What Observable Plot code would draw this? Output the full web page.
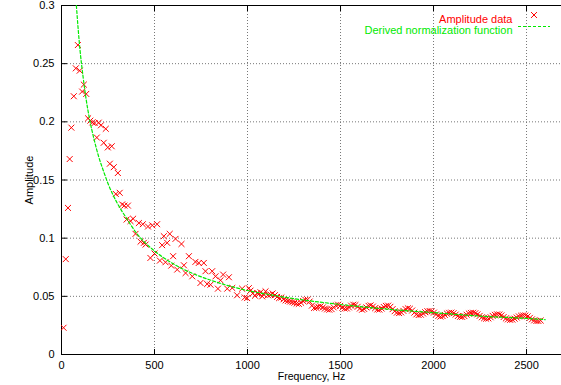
<!DOCTYPE html>
<html>
<head>
<meta charset="utf-8">
<script src="https://cdn.jsdelivr.net/npm/d3@7"></script>
<script src="https://cdn.jsdelivr.net/npm/@observablehq/plot@0.6"></script>
<style>
  html, body { margin: 0; padding: 0; background: white; }
  #chart { position: relative; width: 561px; height: 385px; overflow: hidden; }
</style>
</head>
<body>
<div id="chart"></div>
<script>
// Measured amplitude data (frequency in Hz, amplitude)
const freq = [
  11, 23, 35, 44, 53, 66, 77, 88, 98, 111, 120, 133, 143, 155, 166, 178, 190, 200, 212, 227,
  238, 249, 260, 270, 281, 292, 303, 313, 326, 338, 350, 357, 371, 385, 398, 416, 425, 437, 443, 452,
  465, 478, 488, 500, 514, 529, 541, 550, 559, 568, 582, 590, 600, 613, 622, 645, 658, 667, 685, 703,
  720, 738, 747, 765, 774, 783, 801, 810, 828, 841, 855, 869, 891, 900, 918, 944, 971, 985, 998, 1007,
  1016, 1028, 1040, 1052, 1061, 1070, 1079, 1088, 1097, 1110, 1124,
  1135, 1147, 1159, 1170, 1182, 1194, 1205, 1217, 1229, 1241, 1252, 1264, 1276, 1288, 1299, 1311, 1323, 1334, 1346, 1358,
  1370, 1381, 1393, 1405, 1416, 1428, 1440, 1452, 1463, 1475, 1487, 1498, 1510, 1522, 1534, 1545, 1557, 1569, 1580, 1592,
  1604, 1616, 1627, 1639, 1651, 1662, 1674, 1686, 1698, 1709, 1721, 1733, 1744, 1756, 1768, 1780, 1791, 1803, 1815, 1826,
  1838, 1850, 1862, 1873, 1885, 1897, 1908, 1920, 1932, 1944, 1955, 1967, 1979, 1990, 2002, 2014, 2026, 2037, 2049, 2061,
  2072, 2084, 2096, 2108, 2119, 2131, 2143, 2154, 2166, 2178, 2190, 2201, 2213, 2225, 2236, 2248, 2260, 2272, 2283, 2295,
  2307, 2318, 2330, 2342, 2354, 2365, 2377, 2389, 2400, 2412, 2424, 2436, 2447, 2459, 2471, 2482, 2494, 2506, 2518, 2529,
  2541, 2553, 2564, 2576
];
const amp = [
  0.023, 0.082, 0.126, 0.168, 0.195, 0.222, 0.246, 0.266, 0.244, 0.226, 0.232, 0.224, 0.203, 0.201, 0.1995, 0.199, 0.1865, 0.1993, 0.197, 0.182,
  0.194, 0.178, 0.164, 0.179, 0.161, 0.138, 0.156, 0.139, 0.129, 0.128, 0.116, 0.128, 0.1147, 0.1167, 0.1037, 0.113, 0.097, 0.112, 0.096, 0.0945,
  0.110, 0.083, 0.111, 0.0868, 0.112, 0.0807, 0.094, 0.1017, 0.0793, 0.096, 0.1037, 0.0764, 0.0845, 0.0994, 0.073, 0.095, 0.0767, 0.070, 0.0845, 0.0672,
  0.0796, 0.0787, 0.0615, 0.0787, 0.0716, 0.0606, 0.060, 0.0716, 0.0672, 0.0566, 0.0638, 0.0687, 0.0566, 0.0664, 0.0572, 0.0509, 0.0566, 0.049, 0.0485, 0.057,
  0.0549, 0.0525, 0.0505, 0.0528, 0.052, 0.0535, 0.050, 0.0515, 0.0543, 0.051, 0.0514,
  0.0525, 0.051, 0.0495, 0.0485, 0.049, 0.0475, 0.0465, 0.046, 0.0455, 0.045, 0.0445, 0.0438, 0.0435, 0.0445, 0.046, 0.047, 0.0472, 0.0455, 0.042, 0.040,
  0.0402, 0.041, 0.0414, 0.0405, 0.0395, 0.0388, 0.0385, 0.039, 0.0405, 0.0422, 0.0428, 0.0418, 0.0402, 0.0395, 0.0396, 0.0405, 0.042, 0.0428, 0.0425, 0.041,
  0.0395, 0.0385, 0.0392, 0.0405, 0.0418, 0.0422, 0.0412, 0.0398, 0.0387, 0.0386, 0.0395, 0.0408, 0.0418, 0.042, 0.041, 0.039, 0.0372, 0.036, 0.0356, 0.0362,
  0.0375, 0.039, 0.0397, 0.0393, 0.0378, 0.036, 0.0345, 0.0339, 0.0342, 0.0352, 0.0364, 0.0372, 0.0374, 0.037, 0.036, 0.0345, 0.0332, 0.0326, 0.033, 0.034,
  0.0352, 0.0358, 0.036, 0.0355, 0.0343, 0.0331, 0.0324, 0.0323, 0.033, 0.0342, 0.0352, 0.0357, 0.0359, 0.0355, 0.0345, 0.0332, 0.032, 0.0312, 0.0308, 0.031,
  0.032, 0.0332, 0.0341, 0.0345, 0.0344, 0.0336, 0.0322, 0.031, 0.0302, 0.0298, 0.030, 0.0308, 0.0318, 0.0327, 0.0333, 0.0336, 0.0335, 0.0328, 0.0315, 0.0302,
  0.0293, 0.0288, 0.0288, 0.0292
];

// Derived normalization function
const curveFreq = [80, 90, 100, 115, 130, 150, 175, 200, 225, 250, 300, 350, 400, 450, 500, 600, 700, 800, 900, 1000, 1100, 1250, 1500, 1750, 2000, 2250, 2500, 2600];
const curveAmp  = [0.300, 0.279, 0.261, 0.240, 0.222, 0.203, 0.185, 0.170, 0.158, 0.147, 0.130, 0.117, 0.105, 0.096, 0.089, 0.078, 0.070, 0.064, 0.059, 0.055, 0.052, 0.048, 0.043, 0.039, 0.036, 0.033, 0.031, 0.030];

// Axis ticks
const xTicks = [0, 500, 1000, 1500, 2000, 2500];
const xTickLabels = ["0", "500", "1000", "1500", "2000", "2500"];
const yTicks = [0, 0.05, 0.1, 0.15, 0.2, 0.25, 0.3];
const yTickLabels = ["0", "0.05", "0.1", "0.15", "0.2", "0.25", "0.3"];

const seriesNames = ["Amplitude data", "Derived normalization function"];

const points = freq.map((f, i) => ({f, a: amp[i]}));
const curve = curveFreq.map((f, i) => ({f, a: curveAmp[i]}));

const RED = "#ff0000";
const GREEN = "#00ea00";

const chart = Plot.plot({
  width: 561,
  height: 385,
  marginLeft: 61,
  marginRight: 0,
  marginTop: 5,
  marginBottom: 31,
  style: {fontFamily: "'Liberation Sans', Arial, Helvetica, sans-serif", fontSize: "11px", background: "white", color: "black"},
  x: {domain: [0, 2688]},
  y: {domain: [0, 0.3]},
  marks: [
    Plot.gridX(xTicks.slice(1), {stroke: "#777", strokeOpacity: 1, strokeDasharray: "1,2"}),
    Plot.gridY(yTicks.slice(1, -1), {stroke: "#777", strokeOpacity: 1, strokeDasharray: "1,2"}),
    Plot.axisX(xTicks, {tickSize: -5, text: null, label: null, stroke: "black"}),
    Plot.axisX(xTicks, {anchor: "top", tickSize: -5, text: null, label: null, stroke: "black"}),
    Plot.axisX(xTicks, {tickSize: 0, tickPadding: 7, tickFormat: d => xTickLabels[xTicks.indexOf(d)], label: null, fill: "black"}),
    Plot.axisX([], {tickSize: 0, text: null, label: "Frequency, Hz", labelArrow: "none", labelAnchor: "center",
      labelOffset: 25.5, fontSize: 10.5, fill: "black"}),
    Plot.axisY(yTicks, {tickSize: -6, text: null, label: null, stroke: "black"}),
    Plot.axisY(yTicks, {tickSize: 0, tickPadding: 7, tickFormat: d => yTickLabels[yTicks.indexOf(d)],
      label: "Amplitude", labelArrow: "none", labelAnchor: "center", labelOffset: 36, fill: "black"}),
    Plot.frame({stroke: "black", insetRight: -3}),
    Plot.dot(points, {x: "f", y: "a", symbol: "times", r: 2.8, stroke: RED, strokeWidth: 1, clip: true}),
    Plot.line(curve, {x: "f", y: "a", stroke: GREEN, strokeWidth: 1.2, strokeDasharray: "3,2", curve: "monotone-x", clip: true}),
    // Legend (inside the plot, top-right)
    Plot.text([seriesNames[0]], {x: null, y: null, frameAnchor: "top-right", dx: -49, dy: 10, textAnchor: "end", fill: RED, fontSize: 11}),
    Plot.text([seriesNames[1]], {x: null, y: null, frameAnchor: "top-right", dx: -49, dy: 21, textAnchor: "end", fill: GREEN, fontSize: 11})
  ]
});

document.getElementById("chart").appendChild(chart);

// legend samples
const sym = d3.symbol(d3.symbolTimes, Math.PI * 2.8 * 2.8)();
d3.select(chart).append("path")
  .attr("d", sym)
  .attr("transform", "translate(534,15)")
  .attr("fill", "none")
  .attr("stroke", RED).attr("stroke-width", 1);
d3.select(chart).append("line")
  .attr("x1", 518).attr("x2", 550)
  .attr("y1", 26.5).attr("y2", 26.5)
  .attr("stroke", GREEN).attr("stroke-width", 1.2)
  .attr("stroke-dasharray", "3,2");
</script>
</body>
</html>
